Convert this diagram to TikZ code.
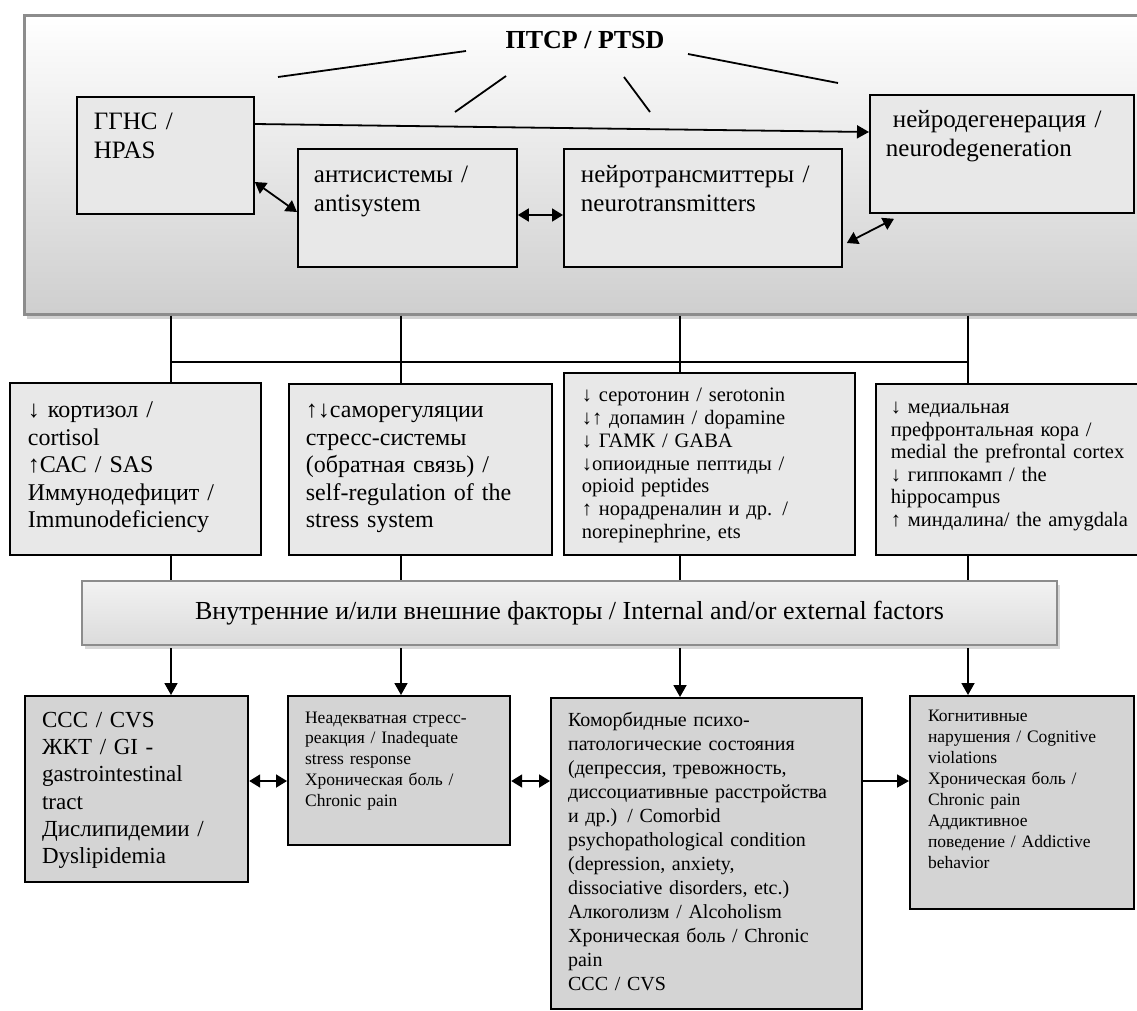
\documentclass[tikz,border=0pt]{standalone}
\usepackage{fontspec}
\setmainfont{Liberation Serif}
\usetikzlibrary{arrows.meta,shadows}
\definecolor{boxfill}{gray}{0.91}
\definecolor{lowfill}{gray}{0.83}
\definecolor{rimgray}{gray}{0.55}
\tikzset{
  wire/.style={line width=1.8pt},
  arr/.style={wire, -{Triangle[length=12pt,width=13pt]}},
  dbl/.style={wire, {Triangle[length=11pt,width=13pt]}-{Triangle[length=11pt,width=13pt]}},
  cell/.style={draw, line width=1.8pt, anchor=north west, inner ysep=0pt, align=left},
  topbox/.style={cell, fill=boxfill, font=\fontsize{25}{29}\selectfont},
  midbox/.style={cell, fill=boxfill},
  lowbox/.style={cell, fill=lowfill, line width=2.2pt},
}
\begin{document}
\begin{tikzpicture}[x=1pt, y=-1pt]
	\useasboundingbox (0,0) rectangle (1137,1010);
	% PTSD frame:
	\node[draw=rimgray, line width=2.5pt, top color=white, bottom color=gray!38,
	  drop shadow={shadow xshift=3pt, shadow yshift=-5pt, fill=gray!70},
	  anchor=north west, minimum width=1200pt, minimum height=299pt] (frame) at (23,14) {};
	\node[font=\fontsize{26}{30}\selectfont\bfseries] (title) at (585,40) {ПТСР / PTSD};
	\draw[wire] (278,77) -- (466,51);
	\draw[wire] (455,112) -- (506,76);
	\draw[wire] (624,77) -- (650,112);
	\draw[wire] (688,54) -- (838,83);
	% Systems:
	\node[topbox, inner xsep=17pt, text width=143pt, text height=33pt, text depth=84pt] (hpas) at (76,96)
	  {ГГНС /\\HPAS};
	\node[topbox, inner xsep=16pt, text width=187pt, text height=34pt, text depth=84pt] (anti) at (297,148)
	  {антисистемы /\\antisystem};
	\node[topbox, inner xsep=17pt, text width=244pt, text height=34pt, text depth=84pt] (neurot) at (563,148)
	  {нейротрансмиттеры /\\neurotransmitters};
	\node[topbox, inner xsep=16pt, text width=232pt, text height=33pt, text depth=85pt] (neurod) at (869,94)
	  {\hspace{7pt}нейродегенерация /\\neurodegeneration};
	\draw[arr] ([yshift=-28pt]hpas.north east) -- ([yshift=-38pt]neurod.north west);
	\draw[dbl] ([yshift=-86pt]hpas.north east) -- ([yshift=-64pt]anti.north west);
	\draw[dbl] ([yshift=-67pt]anti.north east) -- ([yshift=-67pt]neurot.north west);
	\draw[dbl] ([xshift=4pt,yshift=-95pt]neurot.north east) -- ([xshift=25pt,yshift=-5pt]neurod.south west);
	% Changes:
	\node[midbox, font=\fontsize{24}{27.5}\selectfont, inner xsep=18pt, text width=215pt, text height=35pt, text depth=137pt] (cort) at (9,382)
	  {↓ кортизол /\\cortisol\\↑САС / SAS\\Иммунодефицит /\\Immunodeficiency};
	\node[midbox, font=\fontsize{24}{27.5}\selectfont, inner xsep=17pt, text width=229pt, text height=34pt, text depth=137pt] (selfreg) at (288,383)
	  {↑↓саморегуляции\\стресс-системы\\(обратная связь) /\\self-regulation of the\\stress system};
	\node[midbox, font=\fontsize{20.5}{22.7}\selectfont, inner xsep=18pt, text width=255pt, text height=29pt, text depth=153pt] (sero) at (563,372)
	  {↓ серотонин / serotonin\\↓↑ допамин / dopamine\\↓ ГАМК / GABA\\↓опиоидные пептиды /\\opioid peptides\\↑ норадреналин и др. /\\norepinephrine, ets};
	\node[midbox, font=\fontsize{20.5}{22.5}\selectfont, inner xsep=15pt, text width=260pt, text height=30pt, text depth=141pt] (medial) at (875,383)
	  {↓ медиальная\\префронтальная кора /\\medial the prefrontal cortex\\↓ гиппокамп / the\\hippocampus\\↑ миндалина/ the amygdala};
	\coordinate (j1) at (171,362);
	\coordinate (j2) at (401,362);
	\coordinate (j3) at (680,362);
	\coordinate (j4) at (968,362);
	\draw[wire] (j1) -- (j4);
	\draw[wire] (j1 |- frame.south) -- (j1 |- cort.north);
	\draw[wire] (j2 |- frame.south) -- (j2 |- selfreg.north);
	\draw[wire] (j3 |- frame.south) -- (j3 |- sero.north);
	\draw[wire] (j4 |- frame.south) -- (j4 |- medial.north);
	% Factors:
	\node[draw=rimgray, line width=2pt, top color=gray!10, bottom color=gray!28,
	  drop shadow={shadow xshift=3pt, shadow yshift=-4pt, fill=gray!60},
	  anchor=north west, minimum width=975pt, minimum height=64pt,
	  font=\fontsize{26}{30}\selectfont] (fact) at (81,580)
	  {Внутренние и/или внешние факторы / Internal and/or external factors};
	\draw[wire] (j1 |- cort.south) -- (j1 |- fact.north);
	\draw[wire] (j2 |- selfreg.south) -- (j2 |- fact.north);
	\draw[wire] (j3 |- sero.south) -- (j3 |- fact.north);
	\draw[wire] (j4 |- medial.south) -- (j4 |- fact.north);
	% Consequences:
	\node[lowbox, font=\fontsize{23}{27.3}\selectfont, inner xsep=17pt, text width=189pt, text height=31pt, text depth=155pt] (cvs) at (24,695)
	  {ССС / CVS\\ЖКТ / GI -\\gastrointestinal\\tract\\Дислипидемии /\\Dyslipidemia};
	\node[lowbox, font=\fontsize{17.5}{20.8}\selectfont, inner xsep=17pt, text width=188pt, text height=27pt, text depth=122pt] (inad) at (287,695)
	  {Неадекватная стресс-\\реакция / Inadequate\\stress response\\Хроническая боль /\\Chronic pain};
	\node[lowbox, font=\fontsize{20}{24}\selectfont, inner xsep=17pt, text width=277pt, text height=28pt, text depth=283pt] (comorb) at (550,697)
	  {Коморбидные психо-\\патологические состояния\\(депрессия, тревожность,\\диссоциативные расстройства\\и др.) / Comorbid\\psychopathological condition\\(depression, anxiety,\\dissociative disorders, etc.)\\Алкоголизм / Alcoholism\\Хроническая боль / Chronic\\pain\\ССС / CVS};
	\node[lowbox, font=\fontsize{17.5}{21}\selectfont, inner xsep=18pt, text width=188pt, text height=25pt, text depth=188pt] (cogn) at (909,695)
	  {Когнитивные\\нарушения / Cognitive\\violations\\Хроническая боль /\\Chronic pain\\Аддиктивное\\поведение / Addictive\\behavior};
	\draw[arr] ([yshift=-2pt]j1 |- fact.south) -- (j1 |- cvs.north);
	\draw[arr] ([yshift=-2pt]j2 |- fact.south) -- (j2 |- inad.north);
	\draw[arr] ([yshift=-2pt]j3 |- fact.south) -- (j3 |- comorb.north);
	\draw[arr] ([yshift=-2pt]j4 |- fact.south) -- (j4 |- cogn.north);
	\coordinate (lvl) at (0,781);
	\draw[dbl] (cvs.east |- lvl) -- (inad.west |- lvl);
	\draw[dbl] (inad.east |- lvl) -- (comorb.west |- lvl);
	\draw[arr] (comorb.east |- lvl) -- (cogn.west |- lvl);
\end{tikzpicture}
\end{document}
